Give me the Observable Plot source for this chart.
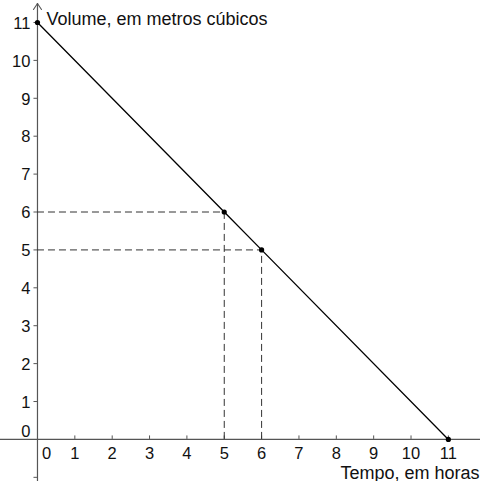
<!DOCTYPE html>
<html><head><meta charset="utf-8">
<script src="https://cdn.jsdelivr.net/npm/d3@7"></script>
<script src="https://cdn.jsdelivr.net/npm/@observablehq/plot@0.6"></script>
<style>body{margin:0;background:#fff}</style>
</head><body><div id="chart"></div>
<script>
const tempo = [0, 5, 6, 11];
const volume = [11, 6, 5, 0];
const xTicks = [0,1,2,3,4,5,6,7,8,9,10,11];
const yTicks = [-1,0,1,2,3,4,5,6,7,8,9,10,11];
const xLabel = "Tempo, em horas";
const yLabel = "Volume, em metros cúbicos";

const pts = tempo.map((t, i) => ({t, v: volume[i]}));
const guides = pts.filter(d => d.t > 0 && d.v > 0);
const xDom = [-0.99, 11.86], yDom = [-1.11, 11.58];
const W = 480, H = 481;
const kx = W / (xDom[1] - xDom[0]), ky = H / (yDom[1] - yDom[0]);
const font = "'Liberation Sans', Arial, sans-serif";
const axisColor = "#555";
const txt = "#111";

const chart = Plot.plot({
  width: W, height: H,
  margin: 0,
  x: {domain: xDom, axis: null},
  y: {domain: yDom, axis: null},
  style: {fontFamily: font, fontSize: "17px", background: "#fff"},
  marks: [
    // axes
    Plot.ruleY([0], {stroke: axisColor, strokeWidth: 1.2}),
    Plot.ruleX([0], {y1: yDom[0], y2: 11.5, stroke: axisColor, strokeWidth: 1.2}),
    Plot.line([{x: -4 / kx, y: 11.5 - 6 / ky}, {x: 0, y: 11.5}, {x: 4 / kx, y: 11.5 - 6 / ky}],
      {x: "x", y: "y", stroke: axisColor, strokeWidth: 1.1}),
    // ticks
    Plot.ruleX(xTicks.filter(d => d !== 0), {x: d => d, y1: 0, y2: 3.5 / ky, stroke: axisColor}),
    Plot.ruleY(yTicks.filter(d => d !== 0), {y: d => d, x1: -3.5 / kx, x2: 0, stroke: axisColor}),
    // tick labels
    Plot.text(xTicks.filter(d => d !== 0), {x: d => d, y: 0, text: d => String(d), dy: 14,
      fill: txt, fontSize: 16.5}),
    Plot.text(xTicks.filter(d => d === 0), {x: d => d, y: 0, text: d => String(d), dy: 14, dx: 9,
      fill: txt, fontSize: 16.5}),
    Plot.text(yTicks.filter(d => d > 0), {x: 0, y: d => d, text: d => String(d), dx: -7, dy: 1,
      textAnchor: "end", fill: txt, fontSize: 16.5}),
    Plot.text(yTicks.filter(d => d === 0), {x: 0, y: d => d, text: d => String(d), dx: -7, dy: -8,
      textAnchor: "end", fill: txt, fontSize: 16.5}),
    // dashed guides
    Plot.ruleY(guides, {y: "v", x1: 0, x2: "t", stroke: "#333", strokeDasharray: "7,4", strokeWidth: 1}),
    Plot.ruleX(guides, {x: "t", y1: 0, y2: "v", stroke: "#333", strokeDasharray: "7,4", strokeWidth: 1}),
    // main line
    Plot.line(pts, {x: "t", y: "v", stroke: "#000", strokeWidth: 1.3}),
    Plot.dot(pts, {x: "t", y: "v", r: 2.6, fill: "#000", stroke: null}),
    // axis titles
    Plot.text([yLabel], {x: 0, y: 11, text: d => d, textAnchor: "start", dx: 9, dy: -3,
      fill: txt, fontSize: 18}),
    Plot.text([xLabel], {frameAnchor: "bottom-right", text: d => d, textAnchor: "end",
      dx: -1, dy: -3, fill: txt, fontSize: 18})
  ]
});
document.getElementById("chart").append(chart);
</script>
</body></html>
